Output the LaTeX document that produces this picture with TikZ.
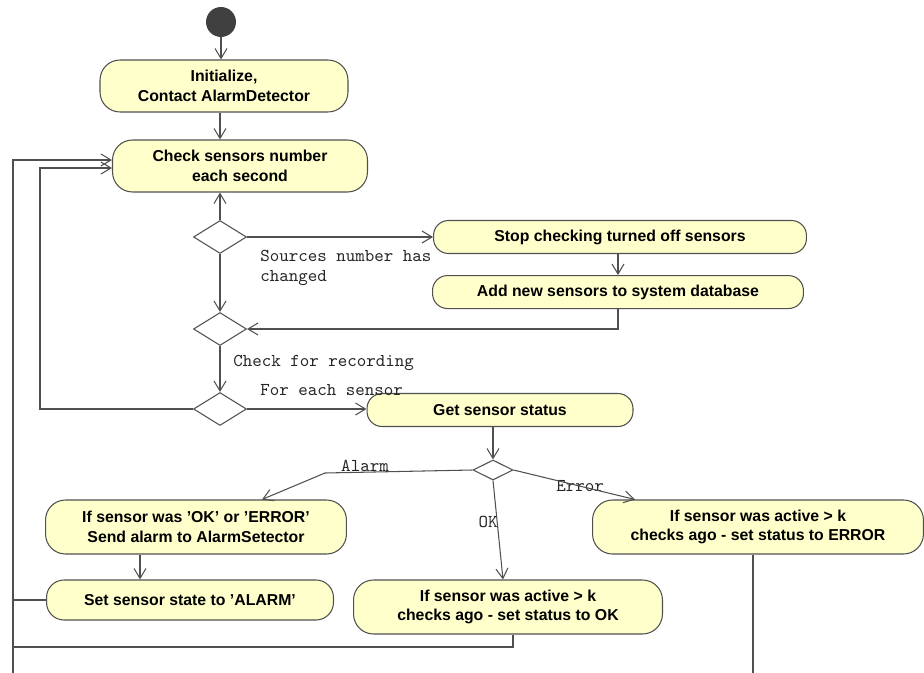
\documentclass[tikz,border=0pt]{standalone}
\usepackage{fontspec}
\setmainfont{Liberation Sans}
\usepackage{tikz}
\usetikzlibrary{shapes.geometric, arrows.meta, positioning, calc}
\definecolor{actfill}{HTML}{FFFFCC}
\definecolor{linegray}{HTML}{505050}
\definecolor{startgray}{HTML}{404040}
\tikzset{
    action/.style={
        rectangle,
        draw=linegray,
        fill=actfill,
        line width=0.6pt,
        rounded corners=0.4cm,
        minimum height=1.04cm,
        align=center,
        font=\fontsize{9}{11}\selectfont\bfseries
    },
    shortaction/.style={
        action,
        rounded corners=0.3cm,
        minimum height=0.66cm
    },
    decision/.style={
        diamond,
        draw=linegray,
        fill=white,
        line width=0.6pt,
        minimum width=1.06cm,
        minimum height=0.66cm,
        inner sep=0pt
    },
    smalldecision/.style={
        decision,
        minimum width=0.8cm,
        minimum height=0.4cm
    },
    initial/.style={
        circle,
        fill=startgray,
        minimum size=0.6cm,
        inner sep=0pt
    },
    flow/.style={
        draw=linegray,
        line width=0.6pt,
        -{Straight Barb[length=2mm,width=2.4mm]}
    },
    plain/.style={
        draw=linegray,
        line width=0.6pt
    },
    guard/.style={
        font=\fontsize{10.3}{11.3}\selectfont\ttfamily,
        text=black!85,
        inner sep=0pt,
        align=left
    }
}

\begin{document}
\begin{tikzpicture}[x=0.02cm, y=-0.02cm]
\useasboundingbox (0,0) rectangle (924,673);

% Start
\node[initial] (start) at (221,22) {};

% Initialize
\node[action, minimum width=4.96cm] (init) at (224,86) {Initialize,\\Contact AlarmDetector};

% Check sensors
\node[action, minimum width=5.1cm] (check) at (240,166) {Check sensors number\\each second};

% Decisions on the main line
\node[decision] (d1) at (220,237) {};
\node[decision] (d2) at (220,329) {};
\node[decision] (d3) at (220,409) {};

% Sensor list update
\node[shortaction, minimum width=7.46cm] (stop) at (620,237) {Stop checking turned off sensors};
\node[shortaction, minimum width=7.42cm, below=0.42cm of stop, xshift=-0.04cm] (add) {Add new sensors to system database};

% Sensor status
\node[shortaction, minimum width=5.32cm] (get) at (500,410) {Get sensor status};
\node[smalldecision] (d4) at (493,470) {};

% Branches
\node[action, minimum width=6.02cm, minimum height=1.08cm] (alarm) at (196,527) {If sensor was 'OK' or 'ERROR'\\Send alarm to AlarmSetector};
\node[action, minimum width=5.74cm, minimum height=0.8cm, rounded corners=0.35cm] (set) at (190,600) {Set sensor state to 'ALARM'};
\node[action, minimum width=6.18cm, minimum height=1.08cm] (ok) at (508,607) {If sensor was active > k\\checks ago - set status to OK};
\node[action, minimum width=6.62cm, minimum height=1.08cm] (err) at (758,527) {If sensor was active > k\\checks ago - set status to ERROR};

% Guards
\node[guard, anchor=west] (g_changed) at (260,268) {Sources number has\\changed};
\node[guard, anchor=west] (g_record) at (233,363) {Check for recording};
\node[guard, anchor=west] (g_each) at (260,390) {For each sensor};
\node[guard] (g_alarm) at (365,466) {Alarm};
\node[guard] (g_ok) at (488,522) {OK};
\node[guard] (g_err) at (580,486) {Error};

% Loop points
\coordinate (inner) at (40,168);
\coordinate (outer) at (13,673);
\coordinate (okjoin) at (13,647);
\coordinate (abend) at (325,473);
\coordinate (errend) at (753,673);

% Connections
\draw[flow] (start) -- (start |- init.north);
\draw[flow] (init.south -| d1) -- (check.north -| d1);
\draw[flow] (d1.north) -- (check.south -| d1);
\draw[flow] (d1.east) -- (stop.west);
\draw[flow] (add.north |- stop.south) -- (add.north);
\draw[flow] (add.south) |- (d2.east);
\draw[flow] (d1.south) -- (d2.north);
\draw[flow] (d2.south) -- (d3.north);
\draw[flow] (d3.east) -- (get.west |- d3.east);
\draw[flow] (d3.west) -| (inner) -- (inner -| check.west);
\draw[flow] (get.south -| d4) -- (d4.north);

% Sensor branches
\draw[flow] (d4.west) -- (abend) -- ($(alarm.north)+(66,0)$);
\draw[flow] (d4.south) -- ($(ok.north)+(-5,0)$);
\draw[flow] (d4.east) -- ($(err.north west)+(43,0)$);
\draw[flow] (alarm.south -| 140,0) -- (set.north -| 140,0);

% Back to checking
\draw[flow] (outer) |- ($(check.west)+(0,-6)$);
\draw[plain] (set.west) -- (set.west -| outer);
\draw[plain] ($(ok.south)+(5,0)$) |- (okjoin);
\draw[plain] (err.south -| errend) -- (errend);

\end{tikzpicture}
\end{document}
